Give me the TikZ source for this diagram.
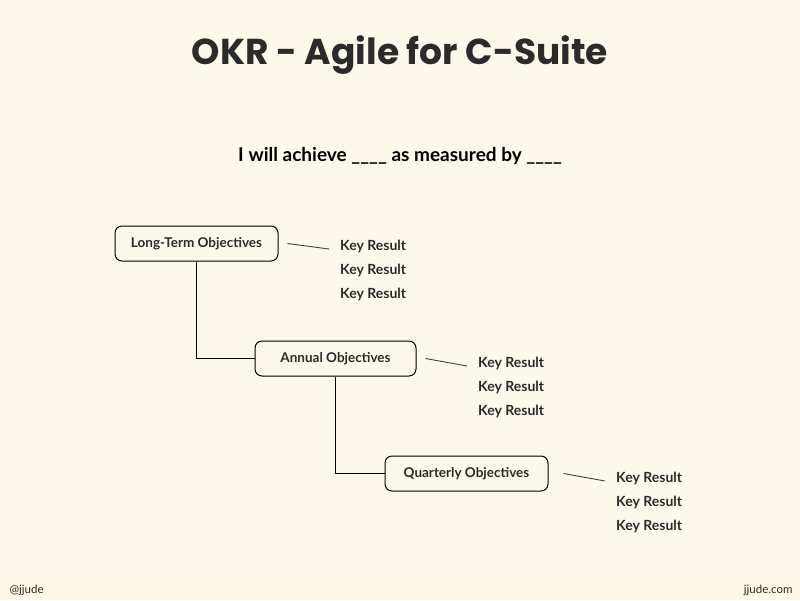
\documentclass[tikz,border=0pt]{standalone}
\usepackage{fontspec}
\setmainfont{Lato}
\newfontfamily\titlefont{Poppins}
\usetikzlibrary{positioning}
\definecolor{paper}{HTML}{FDF9EA}
\definecolor{strip}{HTML}{FEF7E4}
\definecolor{ink}{HTML}{2B2B2B}

\begin{document}
\begin{tikzpicture}[
    x=1pt, y=-1pt,
    objbox/.style={rectangle, rounded corners=7pt, draw=black, line width=1pt, fill=paper, minimum width=163pt, minimum height=35pt, font=\bfseries\fontsize{13.5}{15}\selectfont, text=ink},
    kr/.style={anchor=west, font=\bfseries\fontsize{14}{15}\selectfont, text=ink, inner sep=0pt},
    link/.style={draw=black, line width=1pt},
    tick/.style={draw=black!75, line width=0.9pt}
    ]

    % Background
    \fill[paper] (0,0) rectangle (800,600);
    \fill[strip] (0,578) rectangle (800,600);
    \useasboundingbox (0,0) rectangle (800,600);

    % Titles
    \node (title) [font=\titlefont\bfseries\fontsize{36}{40}\selectfont, text=ink] at (400,55) {OKR - Agile for C-Suite};
    \node (motto) [font=\bfseries\fontsize{19}{22}\selectfont, text=black] at (400,156) {I will achieve \_\_\_\_ as measured by \_\_\_\_};

    % Objectives
    \node (longterm) [objbox] at (196.5,243.5) {Long-Term Objectives};
    \node (annual) [objbox, minimum width=161pt] at (335.5,358.5) {Annual Objectives};
    \node (quarterly) [objbox] at (466.5,473.5) {Quarterly Objectives};

    % Key results
    \foreach \obj/\x/\y/\gap in {longterm/340/246/9, annual/478/363/9, quarterly/616/478/15} {
        \node (\obj-kr1) [kr] at (\x,\y) {Key Result};
        \node (\obj-kr2) [kr, below=11pt of \obj-kr1.south west, anchor=north west] {Key Result};
        \node (\obj-kr3) [kr, below=11pt of \obj-kr2.south west, anchor=north west] {Key Result};
        \draw [tick] ([xshift=\gap pt]\obj.east) -- ([xshift=-11pt,yshift=-3pt]\obj-kr1.west);
    }

    % Connectors
    \draw [link] (longterm.south) |- (annual.west);
    \draw [link] (annual.south) |- (quarterly.west);

    % Footer
    \node (handle) [anchor=west, font=\fontsize{11.5}{13}\selectfont, text=ink] at (6,590) {@jjude};
    \node (site) [anchor=east, font=\fontsize{11.5}{13}\selectfont, text=ink] at (796,590) {jjude.com};
\end{tikzpicture}
\end{document}
